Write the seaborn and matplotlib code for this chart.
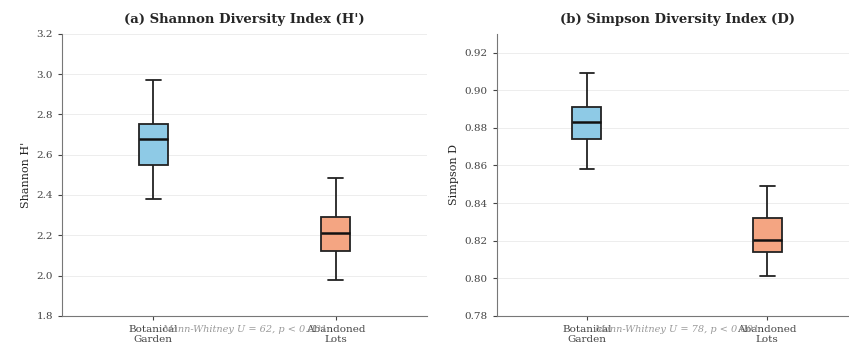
import pandas as pd
import matplotlib.pyplot as plt
import seaborn as sns

# Five-number summaries (min, Q1, median, Q3, max)
sites = ["Botanical\nGarden", "Abandoned\nLots"]
shannon_garden = [2.38, 2.55, 2.68, 2.75, 2.97]
shannon_lots = [1.98, 2.12, 2.21, 2.29, 2.485]
simpson_garden = [0.858, 0.874, 0.883, 0.891, 0.909]
simpson_lots = [0.801, 0.814, 0.8205, 0.832, 0.849]

shannon_stat = "Mann-Whitney U = 62, p < 0.001"
simpson_stat = "Mann-Whitney U = 78, p < 0.001"

colors = ["#8ecae6", "#f4a582"]

sns.set_style("ticks")
plt.rcParams["font.family"] = ["DejaVu Serif"]

# Build long tables for seaborn
shannon_df = pd.DataFrame({
    "site": [sites[0]] * len(shannon_garden) + [sites[1]] * len(shannon_lots),
    "value": shannon_garden + shannon_lots,
})
simpson_df = pd.DataFrame({
    "site": [sites[0]] * len(simpson_garden) + [sites[1]] * len(simpson_lots),
    "value": simpson_garden + simpson_lots,
})

fig = plt.figure(figsize=(8.49, 3.49), dpi=100)
ax1 = fig.add_axes([0.073, 0.095, 0.430, 0.808])
ax2 = fig.add_axes([0.585, 0.095, 0.425, 0.808])

panels = [
    (ax1, shannon_df, "(a) Shannon Diversity Index (H')", "Shannon H'", (1.8, 3.2), shannon_stat),
    (ax2, simpson_df, "(b) Simpson Diversity Index (D)", "Simpson D", (0.78, 0.93), simpson_stat),
]

for ax, df, title, ylabel, ylim, stat in panels:
    sns.boxplot(
        data=df, x="site", y="value", hue="site", palette=colors,
        saturation=1, width=0.16, whis=(0, 100), linewidth=1.3,
        linecolor="#222222",
        medianprops={"color": "#111111", "linewidth": 1.8},
        legend=False, ax=ax,
    )
    ax.set_ylim(*ylim)
    ax.set_xlim(-0.5, 1.5)
    ax.set_title(title, fontsize=9.5, fontweight="bold", pad=8)
    ax.set_ylabel(ylabel, fontsize=8)
    ax.set_xlabel("")
    ax.tick_params(axis="both", labelsize=7.5, colors="#444444", length=3)
    ax.grid(axis="y", color="#dddddd", linewidth=0.6, alpha=0.6)
    ax.set_axisbelow(True)
    sns.despine(ax=ax)
    ax.spines["left"].set_color("#777777")
    ax.spines["bottom"].set_color("#777777")
    ax.text(0.5, -0.05, stat, transform=ax.transAxes, ha="center", va="center",
            fontsize=7, style="italic", color="#999999")

ax2.set_yticks([0.78, 0.80, 0.82, 0.84, 0.86, 0.88, 0.90, 0.92])

fig.savefig("out.png", dpi=100)
plt.close(fig)
